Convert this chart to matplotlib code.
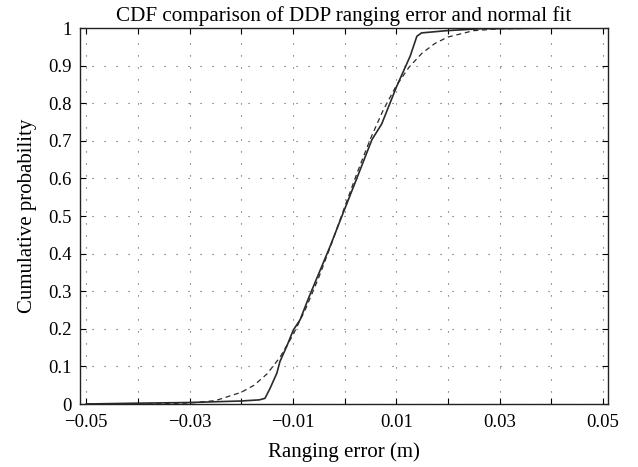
import matplotlib
matplotlib.use("Agg")
import matplotlib.pyplot as plt

emp_x = [-0.0500, -0.0410, -0.0300, -0.0200, -0.0165, -0.0154, -0.0144, -0.0131,
         -0.0125, -0.0112, -0.0099, -0.0086, -0.0071, -0.0065, -0.0028, -0.0005,
         0.0024, 0.0053, 0.0072, 0.0101, 0.0127, 0.0140, 0.0149, 0.0198,
         0.0262, 0.0360, 0.0450]
emp_y = [0.000, 0.002, 0.004, 0.008, 0.011, 0.015, 0.042, 0.082,
         0.113, 0.153, 0.197, 0.224, 0.277, 0.297, 0.419, 0.500,
         0.601, 0.703, 0.745, 0.845, 0.925, 0.978, 0.987, 0.993,
         0.998, 0.999, 1.000]

# Normal fit (dashed)
fit_x = [-0.050, -0.040, -0.035, -0.030, -0.025, -0.020, -0.0175, -0.015, -0.0125,
         -0.010, -0.0075, -0.005, -0.0025, 0.000, 0.0025, 0.005, 0.0075, 0.010,
         0.0125, 0.015, 0.0175, 0.020, 0.025, 0.030, 0.040, 0.050]
fit_y = [0.000, 0.0002, 0.0008, 0.0025, 0.009, 0.031, 0.050, 0.080, 0.124,
         0.183, 0.254, 0.336, 0.427, 0.523, 0.617, 0.705, 0.782, 0.846,
         0.896, 0.933, 0.959, 0.976, 0.993, 0.998, 0.9999, 1.000]

x_ticks = [-0.05, -0.04, -0.03, -0.02, -0.01, 0.0, 0.01, 0.02, 0.03, 0.04, 0.05]
x_tick_labels = ["\u22120.05", "", "\u22120.03", "", "\u22120.01", "", "0.01", "", "0.03", "", "0.05"]
y_ticks = [0, 0.1, 0.2, 0.3, 0.4, 0.5, 0.6, 0.7, 0.8, 0.9, 1.0]
y_tick_labels = ["0", "0.1", "0.2", "0.3", "0.4", "0.5", "0.6", "0.7", "0.8", "0.9", "1"]

title = "CDF comparison of DDP ranging error and normal fit"
xlabel = "Ranging error (m)"
ylabel = "Cumulative probability"

plt.rcParams['font.family'] = ['Liberation Serif', 'DejaVu Serif']

fig = plt.figure(figsize=(6.38, 4.67), dpi=100)
ax = fig.add_axes([0.1254, 0.1349, 0.8276, 0.8051])

ax.plot(emp_x, emp_y, color="#2a2a2a", lw=1.2, solid_joinstyle="round")
ax.plot(fit_x, fit_y, color="#2a2a2a", lw=0.9, linestyle=(0, (4, 3)))

ax.set_xlim(-0.0512, 0.051)
ax.set_ylim(0, 1)
ax.set_xticks(x_ticks)
ax.set_xticklabels(x_tick_labels)
ax.set_yticks(y_ticks)
ax.set_yticklabels(y_tick_labels)

ax.grid(True, color="#555555", linestyle=(0, (1, 9.8)), linewidth=0.8)
ax.tick_params(direction="in", length=4, width=0.8, top=True, right=True,
               labelsize=13.5, colors="black")
ax.tick_params(axis="x", pad=7)
ax.tick_params(axis="y", pad=6)
for s in ax.spines.values():
    s.set_linewidth(1.0)
    s.set_color("#222222")

ax.set_title(title, fontsize=15.2, pad=5)
ax.set_xlabel(xlabel, fontsize=15, labelpad=8)
ax.set_ylabel(ylabel, fontsize=15, labelpad=8)

fig.savefig("out.png", dpi=100)
